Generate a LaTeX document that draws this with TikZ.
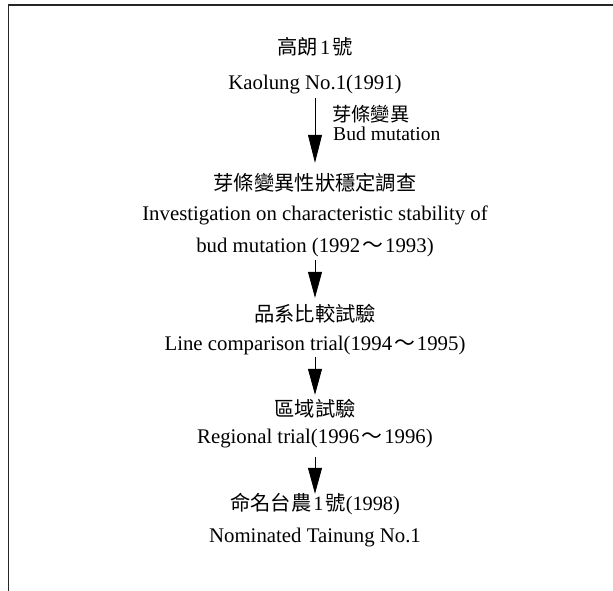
\documentclass[tikz,border=0pt]{standalone}
\usepackage{fontspec}
\setmainfont{Liberation Serif}
\newfontfamily\cjk{Noto Sans CJK TC}
\usetikzlibrary{arrows.meta}
\newcommand{\wave}{\hspace{2pt}{\cjk ～}\hspace{2pt}}
\begin{document}
\begin{tikzpicture}[x=1pt,y=-1pt,
  txt/.style={inner sep=0pt, text height=15pt, text depth=5pt, font=\fontsize{20.8}{24}\selectfont},
  ctxt/.style={inner sep=0pt, text height=15pt, text depth=5pt, font=\fontsize{20.3}{24}\selectfont\cjk},
  ltxt/.style={inner sep=0pt, anchor=base west, text height=13pt, text depth=1pt, font=\fontsize{19.6}{22}\selectfont},
  lctxt/.style={inner sep=0pt, anchor=base west, text height=14pt, text depth=2pt, font=\fontsize{19.3}{22}\selectfont\cjk},
  flow/.style={line width=0.8pt, -{Triangle[length=26pt,width=14pt]}},
  frameline/.style={line width=1.5pt, black!85}]
\useasboundingbox (0,0) rectangle (613,591);
\draw[frameline] (8.5,591) -- (8.5,5) -- (613,5);
\node[ctxt] (n1) at (315,50) {高朗\hspace{2pt}{\rmfamily 1}\hspace{2pt}號};
\node[txt] (n2) at (315,85) {Kaolung No.1(1991)};
\node[lctxt] (l1) at (332,121.5) {芽條變異};
\node[ltxt] (l2) at (333,140) {Bud mutation};
\node[ctxt] (n3) at (315,185) {芽條變異性狀穩定調查};
\node[txt] (n4) at (315,215) {Investigation on characteristic stability of};
\node[txt] (n5) at (315,247) {bud mutation (1992\wave 1993)};
\node[ctxt] (n6) at (315,316) {品系比較試驗};
\node[txt] (n7) at (315,345) {Line comparison trial(1994\wave 1995)};
\node[ctxt] (n8) at (315,411) {區域試驗};
\node[txt] (n9) at (315,438) {Regional trial(1996\wave 1996)};
\node[ctxt] (n10) at (315,505) {命名台農\hspace{2pt}{\rmfamily 1}\hspace{2pt}號{\rmfamily (1998)}};
\node[txt] (n11) at (315,537) {Nominated Tainung No.1};
\draw[flow, -{Triangle[length=28pt,width=14pt]}, shorten <=3pt, shorten >=12pt] (n2) -- (n3);
\draw[flow, shorten <=3pt, shorten >=8pt] (n5) -- (n6);
\draw[flow, shorten <=2pt, shorten >=6pt] (n7) -- (n8);
\draw[flow, shorten <=9pt, shorten >=1pt] (n9) -- (n10);
\end{tikzpicture}
\end{document}
